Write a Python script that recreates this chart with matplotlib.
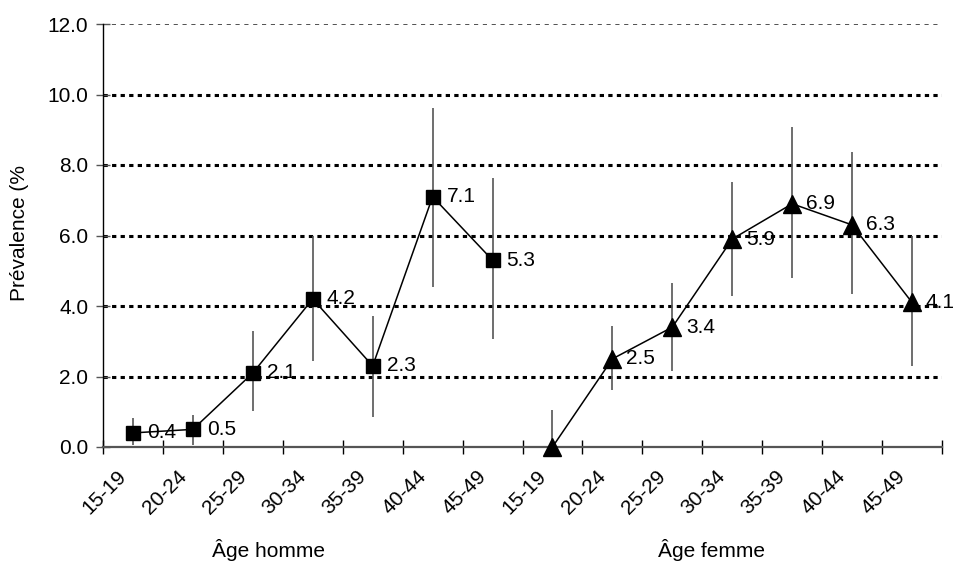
import matplotlib
matplotlib.use("Agg")
import matplotlib.pyplot as plt
import numpy as np

plt.rcParams['font.family'] = ['Liberation Sans', 'DejaVu Sans']

# age groups, men then women on one category axis
age_labels = ['15-19', '20-24', '25-29', '30-34', '35-39', '40-44', '45-49']
men_prev = [0.4, 0.5, 2.1, 4.2, 2.3, 7.1, 5.3]
men_low = [0.05, 0.05, 1.02, 2.44, 0.85, 4.54, 3.06]
men_high = [0.82, 0.9, 3.29, 5.99, 3.72, 9.62, 7.63]
women_prev = [0.0, 2.5, 3.4, 5.9, 6.9, 6.3, 4.1]
women_low = [0.0, 1.62, 2.16, 4.28, 4.79, 4.34, 2.30]
women_high = [1.05, 3.43, 4.65, 7.52, 9.08, 8.37, 5.99]
y_ticks = [0, 2, 4, 6, 8, 10, 12]

FS = 15
n = len(age_labels)
x_men = np.arange(n) + 0.5
x_women = np.arange(n) + n + 0.5

fig = plt.figure(figsize=(9.6, 5.63), dpi=100)
ax = fig.add_axes([103 / 960, 1 - 447 / 563, (942 - 103) / 960, (447 - 24) / 563])

# gridlines
for yv in y_ticks[1:-1]:
    ax.axhline(yv, color='black', lw=2.2, ls=(0, (1.4, 1.4)), zorder=1)
ax.axhline(y_ticks[-1], color='#333333', lw=1.2, ls=(0, (2.5, 2.8)), zorder=1)

# error bars (no caps)
ax.vlines(x_men, men_low, men_high, color='#555555', lw=1.2, zorder=2)
ax.vlines(x_women, women_low, women_high, color='#555555', lw=1.2, zorder=2)

ax.plot(x_men, men_prev, color='black', lw=1.1, marker='s', ms=10.5, zorder=3, clip_on=False)
ax.plot(x_women, women_prev, color='black', lw=1.1, marker='^', ms=12.5, zorder=3, clip_on=False)

for xs, ys in ((x_men, men_prev), (x_women, women_prev)):
    for xv, yv in zip(xs, ys):
        if yv == 0:
            continue
        ax.annotate(f'{yv:.1f}', (xv, yv), xytext=(10, 0), textcoords='offset points',
                    ha='left', va='center', fontsize=FS, color='black', zorder=4)

ax.set_xlim(0, 2 * n)
ax.set_ylim(0, 12)

ax.spines['top'].set_visible(False)
ax.spines['right'].set_visible(False)
ax.spines['left'].set_color('black')
ax.spines['left'].set_linewidth(1.0)
ax.spines['bottom'].set_color('#555555')
ax.spines['bottom'].set_linewidth(1.6)

ax.set_yticks(y_ticks)
ax.set_yticklabels([f'{v:.1f}' for v in y_ticks], fontsize=FS)
ax.tick_params(axis='y', direction='inout', length=10, width=1.0, color='#555555', pad=5.5)

# tick marks at category boundaries, labels slightly left of the centres
ax.set_xticks(np.arange(2 * n + 1), minor=True)
ax.set_xticks(np.concatenate([x_men, x_women]) - 0.16)
ax.set_xticklabels(age_labels + age_labels, rotation=45, ha='right',
                   rotation_mode='anchor', va='center', fontsize=FS)
ax.tick_params(axis='x', which='major', length=0, pad=19)
ax.tick_params(axis='x', which='minor', direction='inout', length=10, width=1.0, color='black')

fig.text(268 / 960, 1 - 550 / 563, 'Âge homme', ha='center', va='center', fontsize=FS)
fig.text(712 / 960, 1 - 550 / 563, 'Âge femme', ha='center', va='center', fontsize=FS)
fig.text(20 / 960, 1 - 233 / 563, 'Prévalence (%', rotation=90, ha='center', va='center',
         fontsize=FS)

fig.savefig('out.png', dpi=100, facecolor='white')
